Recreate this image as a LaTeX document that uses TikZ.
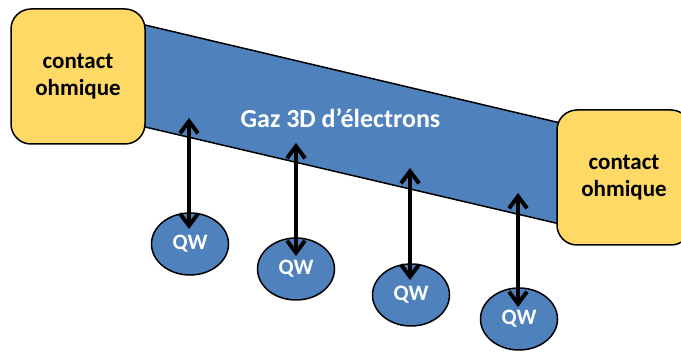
\documentclass[tikz,border=0pt]{standalone}
\usepackage{fontspec}
\setmainfont{Carlito}
\usetikzlibrary{arrows.meta,shapes.geometric}
\definecolor{gasblue}{RGB}{79,129,189}
\definecolor{padyellow}{RGB}{255,217,102}
\tikzset{
  every picture/.style={x=1pt, y=-1pt, line width=1.5pt},
  contactbox/.style={draw=black, fill=padyellow, rounded corners=20pt, minimum width=134pt, minimum height=135pt, align=center, font=\fontsize{23}{27}\selectfont\bfseries},
  well/.style={ellipse, draw=black, fill=gasblue, minimum width=77pt, minimum height=62pt, inner sep=0pt, text=white, font=\fontsize{22}{24}\selectfont\bfseries},
  gas/.style={draw=black, fill=gasblue, line join=miter},
  gaslbl/.style={text=white, font=\fontsize{26}{30}\selectfont\bfseries, anchor=base},
  updown/.style={{Straight Barb[length=12pt,width=18pt]}-{Straight Barb[length=12pt,width=18pt]}, line width=4pt},
}

\begin{document}
\begin{tikzpicture}
  \useasboundingbox (0,0) rectangle (681,352);
  \clip (0,0) rectangle (681,352);
  % the slanted 3D electron gas, running under both contacts
  \draw[gas] (78,9.2) -- (624,138) -- (624,239) -- (78,111.3) -- cycle;
  \node[gaslbl] (gaz) at (340.5,128) {Gaz 3D d’électrons};
  \node[contactbox] (cl) at (78,76.5) {contact\\ohmique};
  \node[contactbox] (cr) at (624,177.5) {contact\\ohmique};
  % quantum wells below the gas
  \foreach \i/\x/\y in {1/190/244,2/296/269,3/411/295,4/519/319} { \node[well] (qw\i) at (\x,\y) {QW}; }
  \foreach \i/\x/\ya/\yb in {1/189/118/229,2/296/143/256,3/410/168/280,4/518/193/307} {
    \coordinate (up\i) at (\x,\ya);
    \coordinate (dn\i) at (\x,\yb);
    \draw[updown] (up\i) -- (dn\i);
  }
\end{tikzpicture}
\end{document}
